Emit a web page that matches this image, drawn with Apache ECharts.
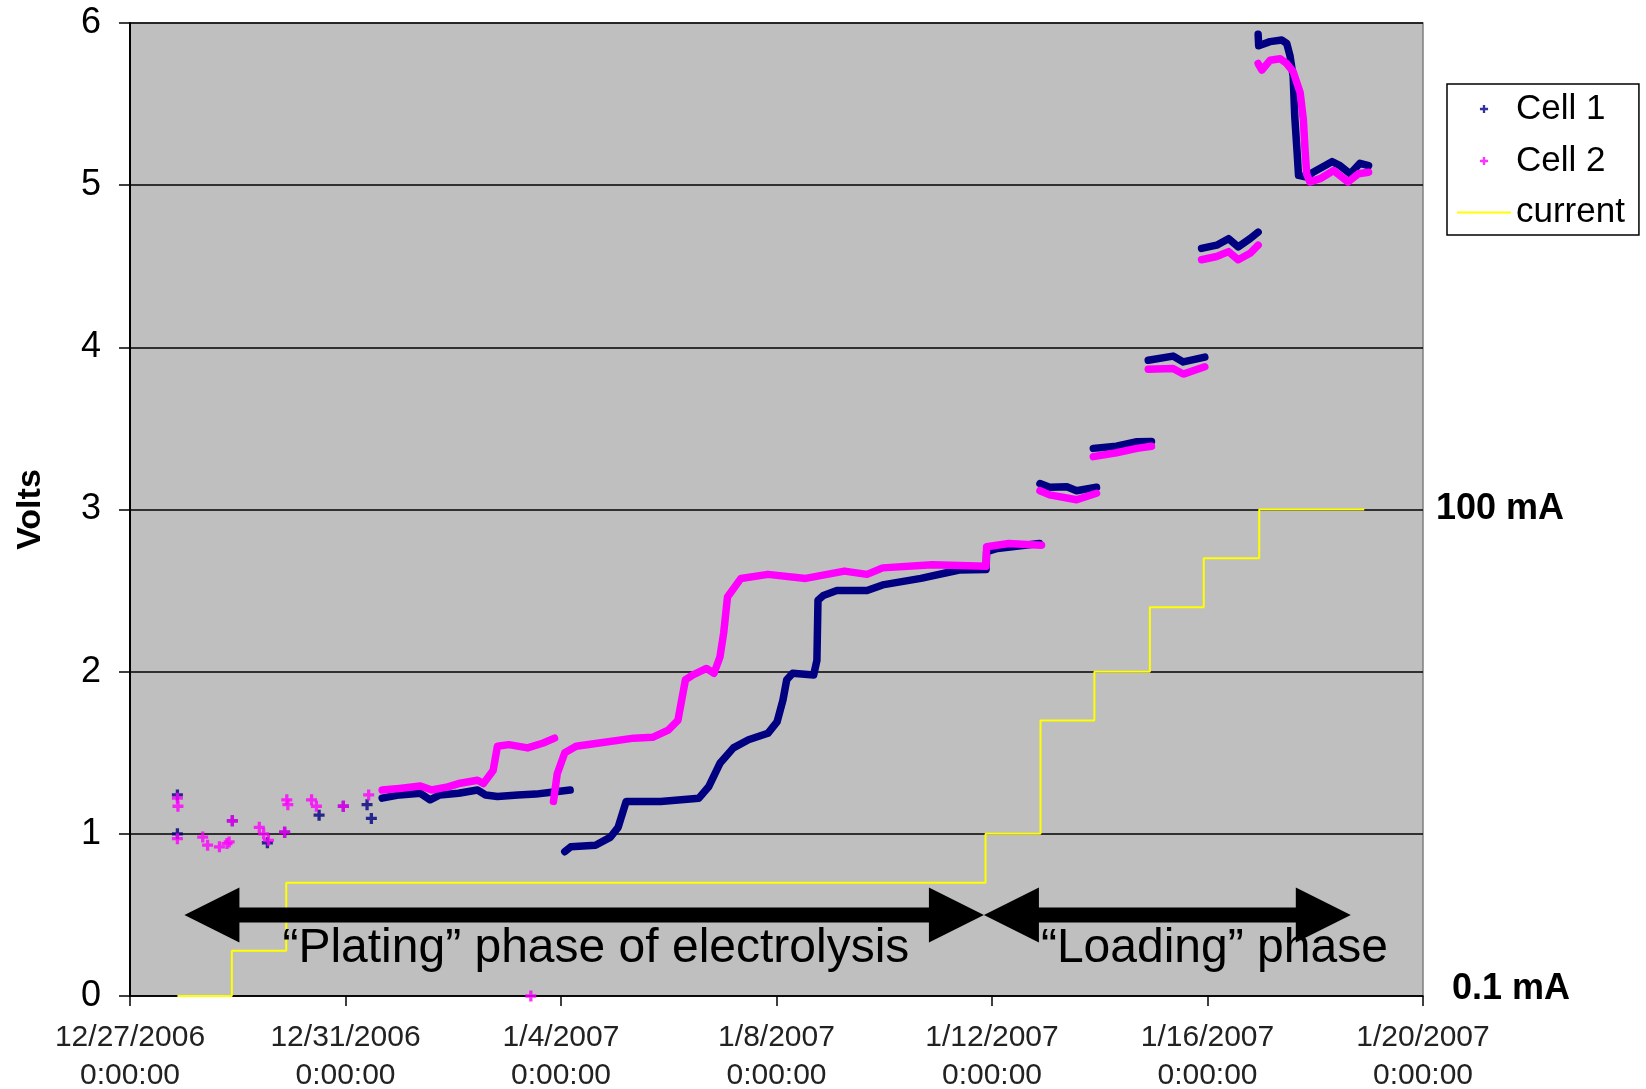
<!DOCTYPE html>
<html>
<head>
<meta charset="utf-8">
<script src="https://cdn.jsdelivr.net/npm/echarts@6.0.0/dist/echarts.min.js"></script>
<style>
  html, body { margin: 0; padding: 0; background: #fff; }
  #chart { width: 1646px; height: 1089px; }
</style>
</head>
<body>
<div id="chart"></div>
<script>
// Time is counted in days from 12/27/2006 0:00:00.
const dateTicks = ['12/27/2006', '12/31/2006', '1/4/2007', '1/8/2007', '1/12/2007', '1/16/2007', '1/20/2007'];
const tickStepDays = 4;

// Isolated readings from the first days of the run [day, volts].
const cell1Sparse = [
  [0.88, 1.24], [0.88, 1.00], [1.90, 1.08], [2.55, 0.945], [2.87, 1.01],
  [3.51, 1.115], [3.96, 1.17], [4.40, 1.18], [4.48, 1.095]
];
const cell2Sparse = [
  [0.88, 1.22], [0.89, 1.17], [0.88, 0.97], [1.35, 0.98], [1.44, 0.93],
  [1.66, 0.92], [1.80, 0.94], [1.84, 0.95], [1.90, 1.08], [2.40, 1.04],
  [2.48, 1.00], [2.57, 0.96], [2.87, 1.01], [2.91, 1.21], [2.93, 1.18],
  [3.37, 1.21], [3.46, 1.17], [3.96, 1.17], [4.43, 1.24], [7.44, 0.00]
];

// Continuous logging runs [day, volts]; each run is drawn unbroken.
const cell1Runs = [
  [[4.68, 1.22], [5.00, 1.24], [5.39, 1.25], [5.57, 1.21], [5.75, 1.24], [6.10, 1.25],
   [6.45, 1.27], [6.60, 1.24], [6.82, 1.23], [7.20, 1.24], [7.53, 1.245], [7.90, 1.26], [8.17, 1.27]],
  [[8.07, 0.89], [8.18, 0.92], [8.64, 0.93], [8.92, 0.98], [9.06, 1.04], [9.21, 1.20],
   [9.35, 1.20], [9.85, 1.20], [10.56, 1.22], [10.74, 1.29], [10.95, 1.435], [11.20, 1.53],
   [11.48, 1.58], [11.84, 1.62], [12.01, 1.69], [12.12, 1.825], [12.19, 1.95], [12.30, 1.99],
   [12.69, 1.98], [12.75, 2.07], [12.77, 2.44], [12.87, 2.47], [13.12, 2.50], [13.68, 2.50],
   [13.97, 2.535], [14.68, 2.575], [15.39, 2.627], [15.89, 2.63], [15.90, 2.74], [16.10, 2.76], [16.88, 2.79]],
  [[16.89, 3.16], [17.07, 3.137], [17.39, 3.14], [17.57, 3.116], [17.94, 3.137]],
  [[17.88, 3.377], [18.31, 3.39], [18.69, 3.418], [18.96, 3.42]],
  [[18.90, 3.92], [19.36, 3.946], [19.55, 3.91], [19.95, 3.94]],
  [[19.89, 4.61], [20.17, 4.63], [20.39, 4.67], [20.57, 4.62], [20.79, 4.67], [20.94, 4.71]],
  [[20.94, 5.93], [20.95, 5.86], [21.16, 5.885], [21.38, 5.895], [21.47, 5.875], [21.53, 5.80],
   [21.59, 5.67], [21.62, 5.42], [21.66, 5.22], [21.69, 5.06], [21.84, 5.05], [21.96, 5.08],
   [22.31, 5.145], [22.46, 5.12], [22.65, 5.07], [22.83, 5.135], [22.99, 5.12]]
];
const cell2Runs = [
  [[4.68, 1.27], [5.00, 1.28], [5.39, 1.295], [5.60, 1.27], [5.90, 1.29], [6.10, 1.31],
   [6.45, 1.33], [6.56, 1.31], [6.74, 1.39], [6.82, 1.54], [7.03, 1.55], [7.38, 1.53],
   [7.67, 1.56], [7.88, 1.59]],
  [[7.86, 1.20], [7.93, 1.37], [8.07, 1.50], [8.28, 1.54], [8.71, 1.56], [9.35, 1.59],
   [9.70, 1.595], [9.99, 1.64], [10.17, 1.70], [10.24, 1.825], [10.31, 1.95], [10.45, 1.98],
   [10.70, 2.02], [10.84, 1.99], [10.95, 2.09], [11.02, 2.24], [11.09, 2.46], [11.34, 2.575],
   [11.84, 2.60], [12.54, 2.575], [13.26, 2.62], [13.68, 2.60], [13.97, 2.64], [14.89, 2.66],
   [15.89, 2.65], [15.90, 2.77], [16.31, 2.79], [16.92, 2.78]],
  [[16.89, 3.116], [17.07, 3.09], [17.57, 3.06], [17.94, 3.10]],
  [[17.88, 3.326], [18.31, 3.35], [18.69, 3.377], [18.96, 3.39]],
  [[18.90, 3.865], [19.36, 3.87], [19.55, 3.835], [19.95, 3.88]],
  [[19.89, 4.54], [20.17, 4.56], [20.39, 4.59], [20.57, 4.54], [20.79, 4.58], [20.94, 4.63]],
  [[20.94, 5.75], [21.01, 5.71], [21.16, 5.77], [21.35, 5.78], [21.47, 5.75], [21.59, 5.70],
   [21.72, 5.57], [21.78, 5.40], [21.81, 5.22], [21.84, 5.07], [21.90, 5.02], [22.09, 5.04],
   [22.34, 5.09], [22.61, 5.02], [22.80, 5.07], [22.99, 5.08]]
];

// Applied current: day each setting starts, and its level in mA.
const currentStartDays = [0.88, 1.89, 2.90, 15.88, 16.90, 17.90, 18.93, 19.93, 20.96, 22.91];
const currentLevelsMA  = [0.1, 0.19, 0.5, 1, 5, 10, 25, 50, 100, 100];
const currentAxisLabels = { '-1': '0.1 mA', '2': '100 mA' };

// Phases of the experiment.
const phaseNames = ['\u201CPlating\u201D phase of electrolysis', '\u201CLoading\u201D phase'];
const phaseStartDays = [1.01, 15.85];
const phaseEndDays = [15.85, 22.66];

// ---- drawing ----
const FONT = '"Liberation Sans", Arial, Helvetica, sans-serif';
const NAVY = '#000080';
const MAGENTA = '#ff00ff';
const YELLOW = '#ffff00';
const PLUS = 'path://M3.5,0 H6.5 V3.5 H10 V6.5 H6.5 V10 H3.5 V6.5 H0 V3.5 H3.5 Z';
const LEGEND_PLUS = 'path://M0,0 M60,40 M25.5,18.7 H28.7 V15.5 H31.3 V18.7 H34.5 V21.3 H31.3 V24.5 H28.7 V21.3 H25.5 Z';
const LEGEND_LINE = 'path://M0,0 H60 V2 H0 Z';
const ARROW_LEVEL = 0.5;            // volts, height of the phase arrows
const labelOffsetPx = [98, 57];     // phase text start, measured from arrow start

function joinRuns(runs) {
  const out = [];
  runs.forEach((run, i) => {
    if (i > 0) out.push(null);
    run.forEach(p => out.push(p));
  });
  return out;
}

const currentData = currentStartDays.map((d, i) => [d, currentLevelsMA[i]]);
const phaseData = phaseStartDays.map((s, i) => [s, phaseEndDays[i], ARROW_LEVEL]);

const chart = echarts.init(document.getElementById('chart'), null, { renderer: 'canvas' });

chart.setOption({
  animation: false,
  backgroundColor: '#ffffff',
  textStyle: { fontFamily: FONT },
  grid: {
    left: 130, right: 223, top: 23, bottom: 93,
    show: true,
    backgroundColor: '#bfbfbf',
    borderColor: '#808080',
    borderWidth: 1.5,
    containLabel: false,
    outerBoundsMode: 'none'
  },
  legend: {
    orient: 'vertical',
    left: 1447, top: 84,
    itemWidth: 54, itemHeight: 36, itemGap: 16,
    padding: [7, 14, 5, 10],
    borderColor: '#000', borderWidth: 1.5,
    backgroundColor: '#fff',
    selectedMode: false,
    textStyle: { fontSize: 35, color: '#000', fontFamily: FONT },
    data: [
      { name: 'Cell 1', icon: LEGEND_PLUS },
      { name: 'Cell 2', icon: LEGEND_PLUS },
      { name: 'current', icon: LEGEND_LINE }
    ]
  },
  xAxis: {
    type: 'value',
    min: 0, max: 24, interval: tickStepDays,
    axisLine: { show: true, lineStyle: { color: '#000', width: 1.5 } },
    axisTick: { show: true, inside: false, length: 10, lineStyle: { color: '#000', width: 1.5 } },
    splitLine: { show: false },
    axisLabel: {
      margin: 23,
      fontSize: 30, lineHeight: 38, color: '#222', fontFamily: FONT,
      formatter: v => dateTicks[Math.round(v / tickStepDays)] + '\n0:00:00'
    }
  },
  yAxis: [
    {
      type: 'value',
      min: 0, max: 6, interval: 1,
      name: 'Volts',
      nameLocation: 'middle',
      nameGap: 82,
      nameTextStyle: { fontSize: 34, fontWeight: 'bold', color: '#000', fontFamily: FONT },
      axisLine: { show: true, lineStyle: { color: '#000', width: 2 } },
      axisTick: { show: true, inside: false, length: 11, lineStyle: { color: '#000', width: 1.5 } },
      splitLine: { show: true, lineStyle: { color: '#000', width: 1.5 } },
      axisLabel: { margin: 29, fontSize: 36, color: '#000', fontFamily: FONT }
    },
    {
      type: 'log', logBase: 10,
      min: 0.1, max: 100000,
      position: 'right',
      axisLine: { show: false },
      axisTick: { show: false },
      splitLine: { show: false },
      axisLabel: {
        margin: 13,
        fontSize: 36, fontWeight: 'bold', color: '#000', fontFamily: FONT,
        formatter: v => {
          const key = String(Math.round(Math.log10(v)));
          const t = currentAxisLabels[key];
          if (!t) return '';
          return key === '-1' ? '{lo|' + t + '}' : t;
        },
        rich: {
          lo: { fontSize: 36, fontWeight: 'bold', color: '#000', fontFamily: FONT, padding: [0, 0, 14, 16] }
        }
      }
    }
  ],
  series: [
    {
      name: 'Cell 1', type: 'scatter',
      data: cell1Sparse,
      symbol: PLUS, symbolSize: 11,
      itemStyle: { color: NAVY },
      z: 3
    },
    {
      name: 'Cell 1', type: 'line',
      data: joinRuns(cell1Runs),
      showSymbol: false, connectNulls: false,
      lineStyle: { color: NAVY, width: 7.5, join: 'round', cap: 'round' },
      itemStyle: { color: NAVY },
      z: 3
    },
    {
      name: 'Cell 2', type: 'scatter',
      data: cell2Sparse,
      symbol: PLUS, symbolSize: 11,
      itemStyle: { color: MAGENTA },
      z: 4
    },
    {
      name: 'Cell 2', type: 'line',
      data: joinRuns(cell2Runs),
      showSymbol: false, connectNulls: false,
      lineStyle: { color: MAGENTA, width: 7.5, join: 'round', cap: 'round' },
      itemStyle: { color: MAGENTA },
      z: 4
    },
    {
      name: 'current', type: 'line',
      yAxisIndex: 1,
      data: currentData,
      step: 'end',
      showSymbol: false,
      lineStyle: { color: YELLOW, width: 2 },
      itemStyle: { color: YELLOW },
      z: 2
    },
    {
      type: 'custom',
      data: phaseData,
      encode: { x: [0, 1], y: 2 },
      z: 6,
      silent: true,
      renderItem: (params, api) => {
        const i = params.dataIndex;
        const a = api.coord([api.value(0), api.value(2)]);
        const b = api.coord([api.value(1), api.value(2)]);
        const L = 55, H = 27.5, h = 7.5, y = a[1];
        const pts = [
          [a[0], y], [a[0] + L, y - H], [a[0] + L, y - h], [b[0] - L, y - h], [b[0] - L, y - H],
          [b[0], y], [b[0] - L, y + H], [b[0] - L, y + h], [a[0] + L, y + h], [a[0] + L, y + H]
        ];
        return {
          type: 'group',
          children: [
            { type: 'polygon', shape: { points: pts }, style: { fill: '#000' } },
            {
              type: 'text',
              x: a[0] + labelOffsetPx[i], y: y + 34,
              style: {
                text: phaseNames[i],
                fontSize: 48, fontFamily: FONT, fill: '#000',
                align: 'left', verticalAlign: 'middle'
              }
            }
          ]
        };
      }
    }
  ]
});
</script>
</body>
</html>
